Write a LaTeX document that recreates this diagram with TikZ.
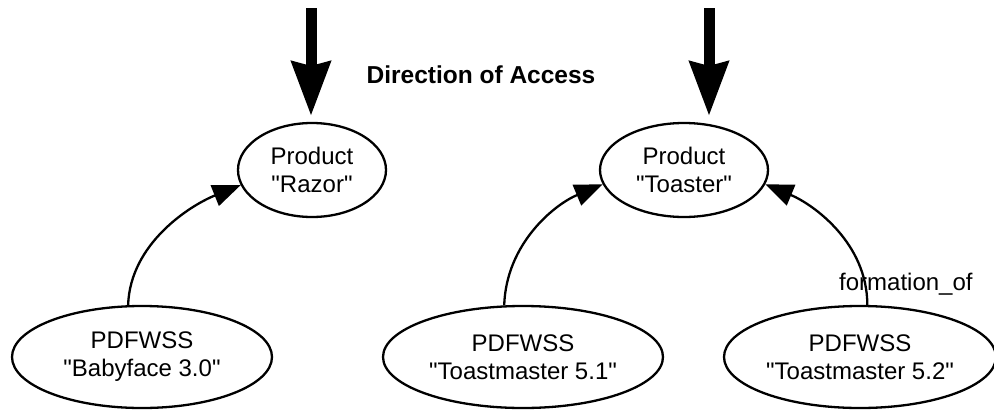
\documentclass[tikz,border=0pt]{standalone}
\usepackage{fontspec}
\setmainfont{Liberation Sans}[Ligatures=TeXOff]
\usetikzlibrary{arrows.meta,shapes.geometric}
\begin{document}
\begin{tikzpicture}[x=1pt,y=-1pt,
  entity/.style={draw,line width=2.3pt,ellipse,inner sep=0pt,align=center,
    font=\fontsize{24}{28}\selectfont},
  product/.style={entity,minimum height=94pt},
  release/.style={entity,minimum height=102pt},
  link/.style={line width=2.3pt,-{Triangle[length=28pt,width=22pt]}},
  access/.style={line width=11pt,-{Stealth[length=54pt,width=38pt,inset=4pt]}},
  edgelabel/.style={font=\fontsize{24}{28}\selectfont,inner sep=0pt,anchor=base west}]
  \useasboundingbox (0,0) rectangle (994,410);

  % entity nodes
  \node[product,minimum width=148pt] (razor)   at (312,170) {Product\\"Razor"};
  \node[product,minimum width=168pt] (toaster) at (684,170) {Product\\"Toaster"};
  \node[release,minimum width=260pt] (baby)    at (142,357) {PDFWSS\\"Babyface 3.0"};
  \node[release,minimum width=280pt] (toast51) at (523,357) {PDFWSS\\"Toastmaster 5.1"};
  \node[release,minimum width=272pt] (toast52) at (860,357) {PDFWSS\\"Toastmaster 5.2"};

  % direction of access
  \coordinate (inL) at (311,8);
  \coordinate (tipL) at (311,116);
  \coordinate (inR) at (709,8);
  \coordinate (tipR) at (709,116);
  \draw[access] (inL) -- (tipL);
  \draw[access] (inR) -- (tipR);
  \node[font=\bfseries\fontsize{24.5}{28}\selectfont,inner sep=0pt,anchor=base]
    (title) at (481,83) {Direction of Access};

  % relations
  \draw[link] (baby.105) .. controls +(2,-62) and +(-50,20) .. (razor.192);
  \draw[link] (toast51.110) .. controls +(2,-62) and +(-48,20) .. (toaster.190);
  \draw[link] (toast52.82) .. controls +(0,-62) and +(48,20) .. (toaster.350);
  \node[edgelabel] (rel) at (839,290) {formation\_of};
\end{tikzpicture}
\end{document}
